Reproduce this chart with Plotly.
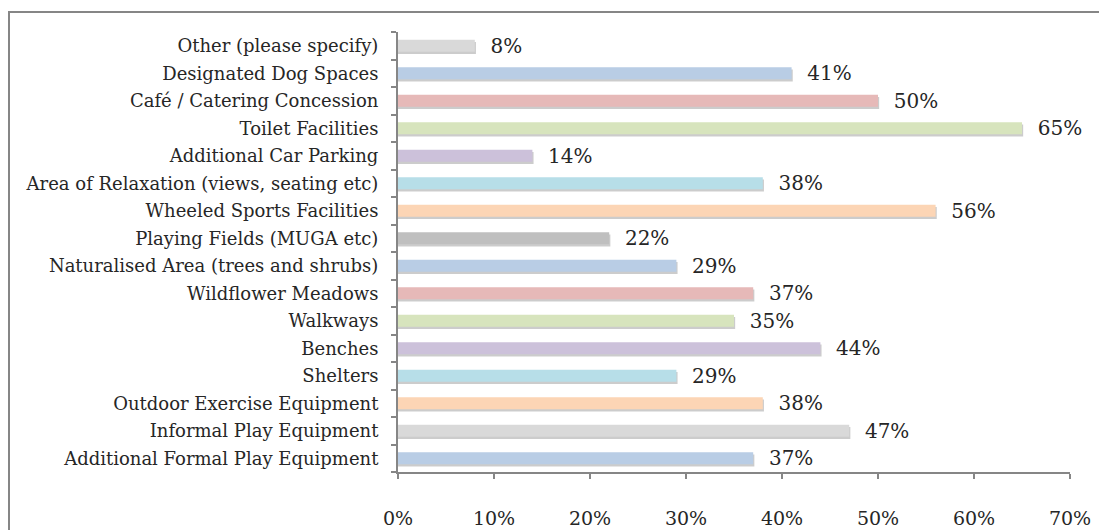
import plotly.graph_objects as go

# Survey facilities, listed bottom to top as drawn
categories = [
    "Additional Formal Play Equipment",
    "Informal Play Equipment",
    "Outdoor Exercise Equipment",
    "Shelters",
    "Benches",
    "Walkways",
    "Wildflower Meadows",
    "Naturalised Area (trees and shrubs)",
    "Playing Fields (MUGA etc)",
    "Wheeled Sports Facilities",
    "Area of Relaxation (views, seating etc)",
    "Additional Car Parking",
    "Toilet Facilities",
    "Café / Catering Concession",
    "Designated Dog Spaces",
    "Other (please specify)",
]
percentages = [37, 47, 38, 29, 44, 35, 37, 29, 22, 56, 38, 14, 65, 50, 41, 8]
bar_colors = [
    "#B9CDE5", "#D9D9D9", "#FCD5B5", "#B7DEE8", "#CCC1DA", "#D7E4BD", "#E6B9B8",
    "#B9CDE5", "#BFBFBF", "#FCD5B5", "#B7DEE8", "#CCC1DA", "#D7E4BD", "#E6B9B8",
    "#B9CDE5", "#D9D9D9",
]
x_ticks = [0, 10, 20, 30, 40, 50, 60, 70]

FONT = "DejaVu Serif"
BAR_W = 0.44

fig = go.Figure()

# soft drop shadow under each bar
fig.add_trace(go.Bar(
    y=categories,
    x=[v + 0.12 for v in percentages],
    orientation="h",
    width=BAR_W,
    offset=-BAR_W / 2 - 0.08,
    marker=dict(color="rgba(110,110,110,0.35)", line_width=0),
    hoverinfo="skip",
    showlegend=False,
))

fig.add_trace(go.Bar(
    y=categories,
    x=percentages,
    orientation="h",
    width=BAR_W,
    offset=-BAR_W / 2,
    marker=dict(color=bar_colors, line_width=0),
    text=[f"  {v}%" for v in percentages],
    textposition="outside",
    constraintext="none",
    cliponaxis=False,
    textfont=dict(family=FONT, size=20, color="#262626"),
    showlegend=False,
))

# the page adds an 8px body margin, so margins are trimmed to compensate
fig.update_layout(
    width=1107,
    height=530,
    margin=dict(l=390, r=45, t=24, b=66),
    barmode="overlay",
    plot_bgcolor="white",
    paper_bgcolor="white",
    font=dict(family=FONT, color="#262626"),
    xaxis=dict(
        range=[0, 70],
        tickvals=x_ticks,
        ticktext=[f"{t}%" for t in x_ticks],
        automargin=False,
        showgrid=False,
        zeroline=False,
        showline=True,
        linecolor="#868686",
        linewidth=2,
        ticks="outside",
        ticklen=5,
        tickcolor="#868686",
        tickwidth=2,
        ticklabelstandoff=23,
        tickfont=dict(family=FONT, size=19, color="#262626"),
    ),
    yaxis=dict(
        categoryorder="array",
        categoryarray=categories,
        range=[-0.5, len(categories) - 0.5],
        automargin=False,
        showgrid=False,
        zeroline=False,
        showline=True,
        linecolor="#868686",
        linewidth=2,
        ticks="outside",
        tickson="boundaries",
        ticklen=5,
        tickcolor="#868686",
        tickwidth=2,
        ticklabelstandoff=14,
        tickfont=dict(family=FONT, size=18, color="#262626"),
    ),
    shapes=[dict(
        type="rect", xref="paper", yref="paper",
        x0=(1 - 390) / 672, x1=(1112 - 390) / 672,
        y0=-80 / 440, y1=1 + 20 / 440,
        line=dict(color="#868686", width=2),
        fillcolor="rgba(0,0,0,0)",
        layer="below",
    )],
)

fig.write_html("out.html")
